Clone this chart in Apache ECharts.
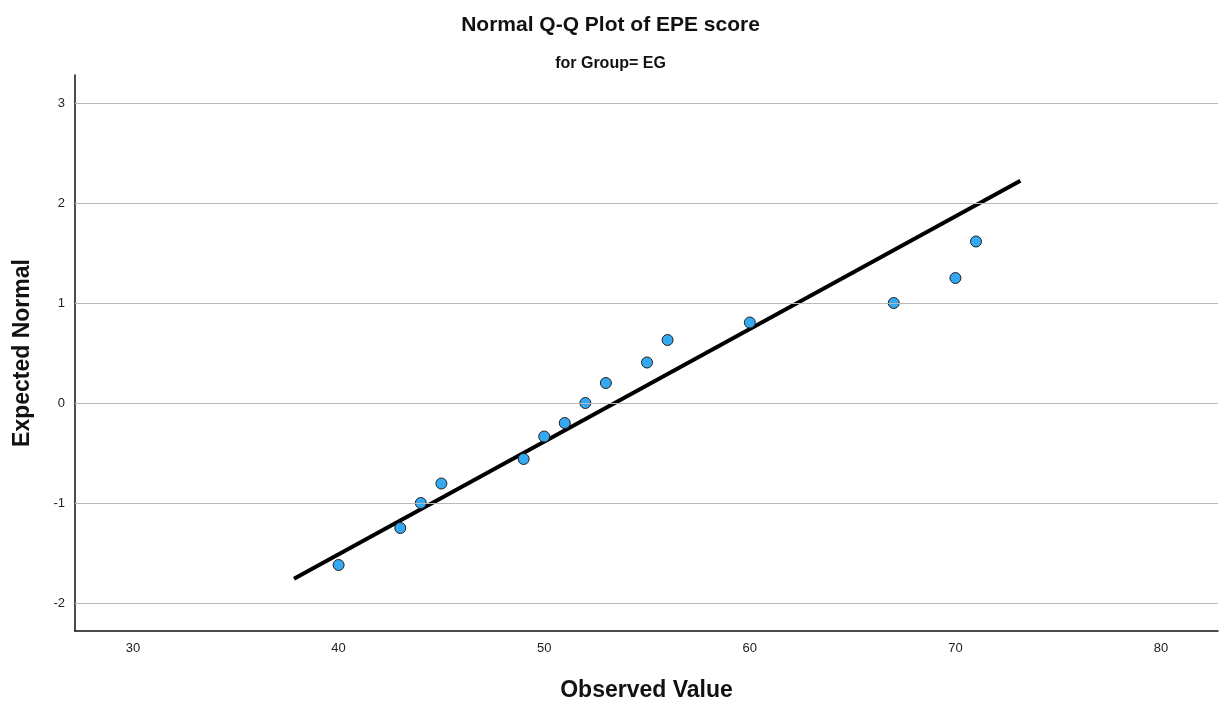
<!DOCTYPE html>
<html><head><meta charset="utf-8">
<script src="https://cdn.jsdelivr.net/npm/echarts@6/dist/echarts.min.js"></script>
<style>html,body{margin:0;padding:0;background:#fff}#c{width:1221px;height:705px}</style>
</head><body><div id="c"></div>
<script>
const observed = [40, 43, 44, 45, 49, 50, 51, 52, 53, 55, 56, 60, 67, 70, 71];
const expected = [-1.62, -1.25, -1.0, -0.805, -0.56, -0.335, -0.2, 0, 0.2, 0.405, 0.63, 0.805, 1.0, 1.25, 1.615];
const lineX = [37.83, 73.16];
const lineY = [-1.757, 2.223];
const xTicks = [30, 40, 50, 60, 70, 80];
const yTicks = [-2, -1, 0, 1, 2, 3];

const chart = echarts.init(document.getElementById('c'));
const FONT = '"Liberation Sans", Arial, sans-serif';
chart.setOption({
  animation: false,
  backgroundColor: '#fff',
  title: [
    { text: 'Normal Q-Q Plot of EPE score', left: 'center', top: 10,
      textStyle: { fontFamily: FONT, fontSize: 21, fontWeight: 'bold', color: '#111' } },
    { text: 'for Group= EG', left: 'center', top: 51,
      textStyle: { fontFamily: FONT, fontSize: 16, fontWeight: 'bold', color: '#111' } }
  ],
  grid: { left: 75, right: 3, top: 75, bottom: 74, containLabel: false, outerBoundsMode: 'none' },
  xAxis: {
    type: 'value', min: 27.18, max: 82.77,
    name: 'Observed Value', nameLocation: 'middle', nameGap: 48,
    nameTextStyle: { fontFamily: FONT, fontSize: 23, fontWeight: 'bold', color: '#111' },
    axisLine: { show: true, onZero: false, lineStyle: { color: '#111', width: 1.5 } },
    axisTick: { show: false, customValues: xTicks },
    axisLabel: { customValues: xTicks, fontFamily: FONT, fontSize: 13, color: '#222', margin: 11 },
    splitLine: { show: false }
  },
  yAxis: {
    type: 'value', min: -2.28, max: 3.28,
    name: 'Expected Normal', nameLocation: 'middle', nameGap: 41,
    nameTextStyle: { fontFamily: FONT, fontSize: 23, fontWeight: 'bold', color: '#111' },
    axisLine: { show: true, onZero: false, lineStyle: { color: '#111', width: 1.5 } },
    axisTick: { show: false, customValues: yTicks },
    axisLabel: { customValues: yTicks, fontFamily: FONT, fontSize: 13, color: '#222', margin: 10 },
    splitLine: { show: false }
  },
  series: [
    {
      type: 'line', data: [], z: 1, silent: true,
      markLine: {
        silent: true, symbol: ['none', 'none'], animation: false,
        label: { show: false },
        lineStyle: { color: '#b9b9b9', width: 1.2, type: 'solid' },
        data: yTicks.map(v => ({ yAxis: v }))
      }
    },
    {
      type: 'line', z: 2, silent: true, symbol: 'none',
      lineStyle: { color: '#000', width: 4 },
      data: lineX.map((x, i) => [x, lineY[i]])
    },
    {
      type: 'scatter', z: 3, symbol: 'circle', symbolSize: 11,
      itemStyle: { color: '#34a8f0', borderColor: '#222', borderWidth: 1, opacity: 1 },
      data: observed.map((x, i) => [x, expected[i]])
    }
  ]
});
</script>
</body></html>
